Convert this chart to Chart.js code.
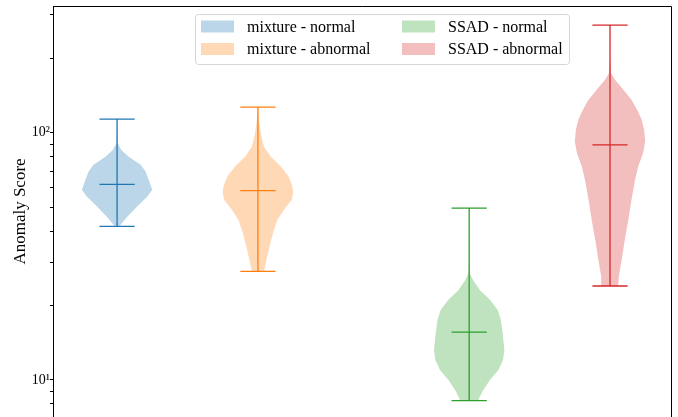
<!DOCTYPE html>
<html>
<head>
<meta charset="utf-8">
<script src="https://cdn.jsdelivr.net/npm/chart.js@4.4.0/dist/chart.umd.min.js"></script>
<style>
  html, body { margin: 0; padding: 0; background: #fff; overflow: hidden; }
  #wrap { width: 678px; height: 417px; }
</style>
</head>
<body>
<div id="wrap"><canvas id="myChart" width="678" height="417"></canvas></div>
<script>
// groups
var groupLabels = ["mixture - normal", "mixture - abnormal", "SSAD - normal", "SSAD - abnormal"];
var groupPositions = [1, 2, 3.5, 4.5];
var lineColors = ["#1f77b4", "#ff7f0e", "#2ca02c", "#d62728"];
var bodyColors = ["rgba(31,119,180,0.3)", "rgba(255,127,14,0.3)", "rgba(44,160,44,0.3)", "rgba(214,39,40,0.3)"];

// extrema + mean line
var minValues = [41.8, 27.5, 8.25, 24.0];
var maxValues = [113.7, 127.0, 49.6, 272.9];
var meanValues = [61.8, 58.4, 15.6, 89.4];

// density profiles (score, relative half width)
var mixNormalY = [113.7, 95, 90.8, 85.3, 80.1, 74.2, 69.7, 64.5, 58.8, 55.2, 50.3, 45.8, 42.5, 41.8];
var mixNormalD = [0, 0.01, 0.02, 0.12, 0.33, 0.67, 0.81, 0.9, 1.0, 0.86, 0.57, 0.29, 0.10, 0.05];
var mixAbnormalY = [127.0, 112.9, 99.7, 88.0, 80.2, 73.1, 66.6, 60.6, 57.0, 53.6, 48.8, 44.4, 39.3, 34.7, 30.6, 27.9, 27.5];
var mixAbnormalD = [0, 0.03, 0.08, 0.17, 0.36, 0.65, 0.87, 0.98, 1.0, 0.96, 0.74, 0.55, 0.43, 0.33, 0.24, 0.18, 0.17];
var ssadNormalY = [49.6, 30.0, 27.0, 25.4, 23.1, 21.1, 19.2, 17.5, 15.5, 13.2, 12.05, 10.98, 10.0, 9.11, 8.43, 8.25];
var ssadNormalD = [0, 0.005, 0.02, 0.11, 0.30, 0.59, 0.81, 0.90, 0.95, 1.0, 0.96, 0.83, 0.59, 0.40, 0.28, 0.26];
var ssadAbnormalY = [272.9, 197.5, 174.5, 163.9, 149.3, 136.0, 123.9, 112.9, 102.8, 92.2, 82.8, 73.1, 64.5, 53.6, 44.4, 36.9, 30.6, 26.2, 24.0];
var ssadAbnormalD = [0, 0.005, 0.03, 0.14, 0.38, 0.61, 0.77, 0.9, 0.97, 1.0, 0.94, 0.80, 0.71, 0.61, 0.52, 0.42, 0.33, 0.25, 0.23];

var profilesY = [mixNormalY, mixAbnormalY, ssadNormalY, ssadAbnormalY];
var profilesD = [mixNormalD, mixAbnormalD, ssadNormalD, ssadAbnormalD];

// tick labels on the log axis
var majorTicks = [10, 100];
var majorTickLabels = ["10\u00b9", "10\u00b2"];

var halfWidth = 0.25;   // violin half width in x units
var capHalf = 0.125;    // cap / mean line half length

var datasets = [];

// lines (drawn on top)
for (var i = 0; i < groupLabels.length; i++) {
  var p = groupPositions[i];
  datasets.push({
    label: groupLabels[i] + " lines",
    data: [
      {x: p, y: minValues[i]}, {x: p, y: maxValues[i]}, {x: p, y: null},
      {x: p - capHalf, y: maxValues[i]}, {x: p + capHalf, y: maxValues[i]}, {x: p, y: null},
      {x: p - capHalf, y: minValues[i]}, {x: p + capHalf, y: minValues[i]}, {x: p, y: null},
      {x: p - capHalf, y: meanValues[i]}, {x: p + capHalf, y: meanValues[i]}
    ],
    showLine: true,
    spanGaps: false,
    borderColor: lineColors[i],
    borderWidth: 1.3,
    pointRadius: 0,
    fill: false,
    order: 1
  });
}

// bodies
for (var i = 0; i < groupLabels.length; i++) {
  var p = groupPositions[i];
  var ys = profilesY[i], ds = profilesD[i];
  var pts = [];
  for (var k = 0; k < ys.length; k++) pts.push({x: p + halfWidth * ds[k], y: ys[k]});
  for (var k = ys.length - 1; k >= 0; k--) pts.push({x: p - halfWidth * ds[k], y: ys[k]});
  datasets.push({
    label: groupLabels[i],
    data: pts,
    showLine: true,
    borderWidth: 0,
    borderColor: 'rgba(0,0,0,0)',
    backgroundColor: bodyColors[i],
    pointRadius: 0,
    tension: 0,
    fill: 'shape',
    order: 2
  });
}

function isNiceTick(v) {
  var m = v / Math.pow(10, Math.floor(Math.log10(v) + 1e-9));
  return Math.abs(m - Math.round(m)) < 1e-6;
}

// frame top/right like matplotlib box
const frame = {
  id: 'frame',
  afterDatasetsDraw(chart) {
    const a = chart.chartArea, ctx = chart.ctx;
    ctx.save();
    ctx.strokeStyle = '#000';
    ctx.lineWidth = 1;
    ctx.beginPath();
    ctx.moveTo(a.left, Math.round(a.top) + 0.5);
    ctx.lineTo(Math.round(a.right) + 0.5, Math.round(a.top) + 0.5);
    ctx.lineTo(Math.round(a.right) + 0.5, a.bottom + 2);
    ctx.stroke();
    ctx.restore();
  }
};

// legend inside axes, 2 columns
const legendBox = {
  id: 'legendBox',
  afterDraw(chart) {
    const a = chart.chartArea, ctx = chart.ctx;
    const bx = a.left + 142, by = a.top + 8, bw = 374, bh = 50;
    ctx.save();
    ctx.beginPath();
    ctx.roundRect(bx + 0.5, by + 0.5, bw, bh, 3);
    ctx.fillStyle = 'rgba(255,255,255,0.8)';
    ctx.fill();
    ctx.strokeStyle = '#d6d6d6';
    ctx.lineWidth = 1;
    ctx.stroke();
    ctx.font = '16px "Liberation Serif"';
    ctx.textBaseline = 'middle';
    ctx.fillStyle = '#000';
    for (var i = 0; i < groupLabels.length; i++) {
      var col = Math.floor(i / 2), row = i % 2;
      var px = bx + 6 + col * 201;
      var cy = by + 12.5 + row * 22.5;
      ctx.fillStyle = bodyColors[i];
      ctx.fillRect(px, cy - 6, 33, 12);
      ctx.fillStyle = '#000';
      ctx.fillText(groupLabels[i], px + 46, cy + 1);
    }
    ctx.restore();
  }
};

const config = {
  type: 'scatter',
  data: { datasets: datasets },
  options: {
    responsive: false,
    animation: false,
    devicePixelRatio: 1,
    events: [],
    layout: { padding: { left: 0, top: 6, right: 7, bottom: 0 } },
    plugins: {
      legend: { display: false },
      tooltip: { enabled: false }
    },
    scales: {
      x: {
        type: 'linear',
        min: 0.545,
        max: 4.933,
        display: false
      },
      y: {
        type: 'logarithmic',
        min: 7.08,
        max: 326,
        afterFit: function(scale) {
          scale.width = 53;
          scale.paddingTop = 0;
          scale.paddingBottom = 0;
        },
        border: { display: true, color: '#000', width: 1 },
        grid: {
          drawOnChartArea: false,
          drawTicks: true,
          tickLength: 3,
          tickWidth: 1,
          tickColor: function(ctx) {
            return ctx.tick && isNiceTick(ctx.tick.value) ? '#000' : 'rgba(0,0,0,0)';
          }
        },
        ticks: {
          autoSkip: false,
          padding: 0,
          color: '#000',
          font: { family: 'Liberation Serif', size: 14 },
          callback: function(value) {
            var idx = majorTicks.indexOf(Math.round(value));
            if (idx >= 0 && Math.abs(value - majorTicks[idx]) < 1e-6) return majorTickLabels[idx];
            return '';
          }
        },
        title: {
          display: true,
          text: 'Anomaly Score',
          color: '#000',
          font: { family: 'Liberation Serif', size: 17 },
          padding: { top: 10, bottom: 0 }
        }
      }
    }
  },
  plugins: [frame, legendBox]
};

const myChart = new Chart(document.getElementById('myChart'), config);
</script>
</body>
</html>
